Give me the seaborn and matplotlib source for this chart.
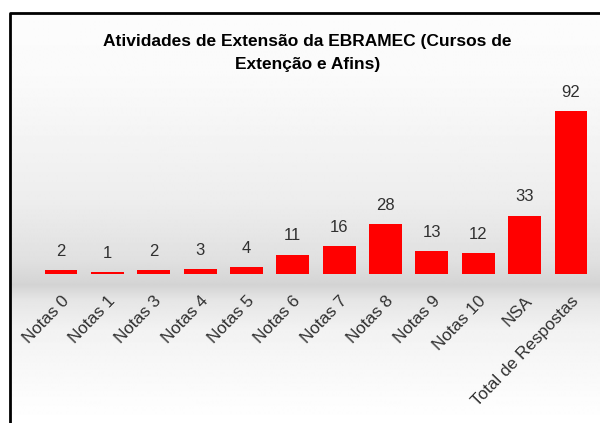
import numpy as np
import pandas as pd
import matplotlib
matplotlib.use("Agg")
import matplotlib.pyplot as plt
import seaborn as sns

# dados
categorias = ["Notas 0", "Notas 1", "Notas 3", "Notas 4", "Notas 5", "Notas 6",
              "Notas 7", "Notas 8", "Notas 9", "Notas 10", "NSA", "Total de Respostas"]
valores = [2, 1, 2, 3, 4, 11, 16, 28, 13, 12, 33, 92]
titulo = "Atividades de Extensão da EBRAMEC (Cursos de\nExtenção e Afins)"

df = pd.DataFrame({"cat": categorias, "val": valores})

sns.set_style("white")
plt.rcParams['font.family'] = ['Liberation Sans', 'DejaVu Sans']

fig = plt.figure(figsize=(6, 4.23), dpi=100)

# fundo em degradê (chão cinza sob as barras), em pixels a partir do topo
bg = fig.add_axes([0, 0, 1, 1], zorder=0)
py = np.arange(423)
g = np.interp(py, [0, 80, 200, 260, 285, 300, 330, 400, 423],
              [0.99, 0.98, 0.93, 0.88, 0.83, 0.90, 0.95, 0.99, 1.0])
bg.imshow(np.tile(g[:, None], (1, 2)), cmap="gray", vmin=0, vmax=1, aspect="auto",
          origin="upper", extent=[0, 1, 0, 1], interpolation="bilinear")
bg.set_xlim(0, 1)
bg.set_ylim(0, 1)
bg.axis("off")
# moldura (fora dela fica branco)
bg.fill_between([0, 1], 1 - 13 / 423, 1, color="white", lw=0)
bg.fill_between([0, 10 / 600], 0, 1, color="white", lw=0)
bg.plot([10 / 600, 10 / 600, 1], [0, 1 - 13 / 423, 1 - 13 / 423], color="black", lw=2,
        solid_capstyle="butt")

ax = fig.add_axes([37.8 / 600, (423 - 274) / 423, 556.4 / 600, 177 / 423], zorder=1)
ax.patch.set_alpha(0)
sns.barplot(data=df, x="cat", y="val", color="#ff0000", saturation=1, width=0.71,
            linewidth=0, ax=ax)
ax.set_ylim(0, 100)
ax.set_xlim(-0.5, len(categorias) - 0.5)

for i, v in enumerate(valores):
    ax.annotate(str(v), (i, v), xytext=(0, 8), textcoords="offset points",
                ha="center", va="bottom", fontsize=12, color="#303030")

ax.set_xticks(range(len(categorias)))
ax.set_xticklabels(categorias, rotation=46, ha="right", rotation_mode="anchor",
                   fontsize=12.3, color="#303030")
ax.tick_params(axis="x", length=0, pad=14)
ax.set_yticks([])
ax.set_xlabel("")
ax.set_ylabel("")
sns.despine(ax=ax, left=True, bottom=True)

fig.text(0.512, 1 - 53 / 423, titulo, ha="center", va="center", fontsize=12.5,
         fontweight="bold", color="black", linespacing=1.7)

fig.savefig("out.png", dpi=100)
